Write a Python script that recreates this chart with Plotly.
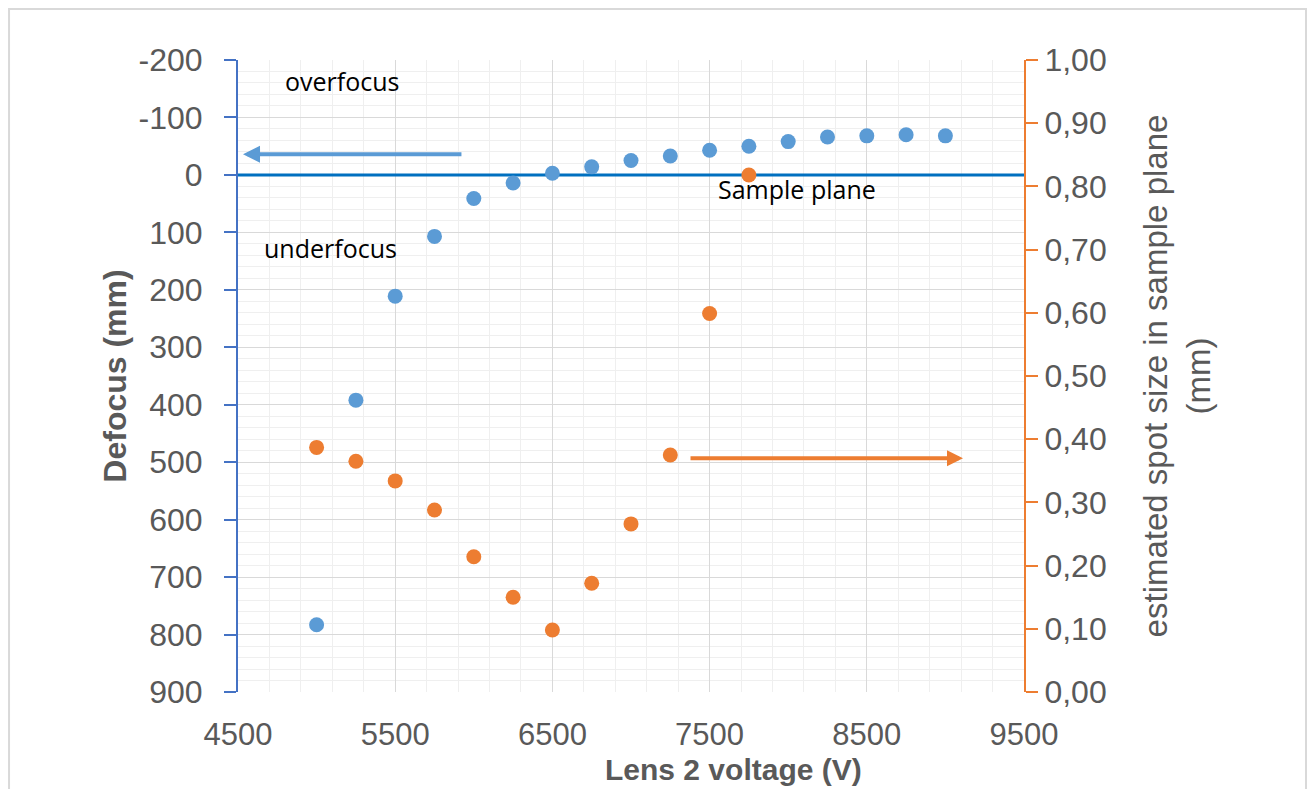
import plotly.graph_objects as go

# ---- data ----
voltage_defocus = [5000, 5250, 5500, 5750, 6000, 6250, 6500, 6750, 7000,
                   7250, 7500, 7750, 8000, 8250, 8500, 8750, 9000]
defocus_mm = [783, 392, 211, 107, 41, 14, -3, -14, -25,
              -33, -43, -50, -58, -66, -68, -70, -68]

voltage_spot = [5000, 5250, 5500, 5750, 6000, 6250, 6500, 6750, 7000,
                7250, 7500, 7750]
spot_size_mm = [0.387, 0.365, 0.334, 0.288, 0.214, 0.150, 0.098, 0.172,
                0.266, 0.375, 0.599, 0.818]

sample_plane_x = [4500, 9500]
sample_plane_defocus = [0, 0]

x_range = [4500, 9500]
y_left_range = [900, -200]
y_right_range = [0, 1]

y_left_tickvals = [-200, -100, 0, 100, 200, 300, 400, 500, 600, 700, 800, 900]
y_left_ticktext = ["-200", "-100", "0", "100", "200", "300", "400", "500",
                   "600", "700", "800", "900"]

BLUE = "#5B9BD5"
ORANGE = "#ED7D31"
DARKBLUE = "#0070C0"
AXIS_BLUE = "#4472C4"
GRAY = "#595959"
FONT = "Liberation Sans"
ANN_FONT = "Open Sans"

fig = go.Figure()

fig.add_trace(go.Scatter(x=sample_plane_x, y=sample_plane_defocus, mode="lines",
                         line=dict(color=DARKBLUE, width=3), yaxis="y",
                         hoverinfo="skip", showlegend=False))
fig.add_trace(go.Scatter(x=voltage_defocus, y=defocus_mm, mode="markers",
                         marker=dict(color=BLUE, size=15, line=dict(width=0)),
                         yaxis="y", showlegend=False, name="Defocus"))
fig.add_trace(go.Scatter(x=voltage_spot, y=spot_size_mm, mode="markers",
                         marker=dict(color=ORANGE, size=15, line=dict(width=0)),
                         yaxis="y2", showlegend=False, name="Spot size"))

fig.update_layout(
    width=1314, height=789,
    margin=dict(l=238, r=290, t=60, b=97),
    paper_bgcolor="white", plot_bgcolor="white",
    separators=",.",
    font=dict(family=FONT, color=GRAY),
    showlegend=False,
    xaxis=dict(
        range=x_range, tick0=4500, dtick=1000,
        showgrid=True, gridcolor="#D9D9D9", gridwidth=1,
        minor=dict(dtick=200, tick0=4500, showgrid=True, gridcolor="#EFEFEF", gridwidth=1),
        showline=False, zeroline=False, ticks="",
        tickfont=dict(family=FONT, size=31, color=GRAY),
        ticklabelstandoff=21,
    ),
    yaxis=dict(
        range=y_left_range, tickmode="array",
        tickvals=y_left_tickvals, ticktext=y_left_ticktext,
        showgrid=True, gridcolor="#D9D9D9", gridwidth=1,
        minor=dict(tickmode="linear", dtick=20, tick0=-200, showgrid=True,
                   gridcolor="#EFEFEF", gridwidth=1),
        showline=True, linecolor=AXIS_BLUE, linewidth=2,
        ticks="outside", ticklen=12, tickwidth=2, tickcolor=AXIS_BLUE,
        zeroline=False,
        tickfont=dict(family=FONT, size=32, color=GRAY),
        ticklabelstandoff=15,
        title=dict(text="<b>Defocus (mm)</b>", font=dict(family=FONT, size=32, color=GRAY),
                   standoff=2),
    ),
    yaxis2=dict(
        range=y_right_range, dtick=0.1, tick0=0, tickformat=".2f",
        overlaying="y", side="right",
        showgrid=False, zeroline=False,
        showline=True, linecolor=ORANGE, linewidth=2,
        ticks="outside", ticklen=12, tickwidth=2, tickcolor=ORANGE,
        tickfont=dict(family=FONT, size=32, color=GRAY),
        title=dict(text="estimated spot size in sample plane<br>(mm)",
                   font=dict(family=FONT, size=33, color=GRAY), standoff=38),
    ),
)

annotations = [
    dict(text="overfocus", x=4786, y=-163, xref="x", yref="y", xanchor="left",
         yanchor="middle", showarrow=False, font=dict(family=ANN_FONT, size=25, color="black")),
    dict(text="underfocus", x=4653, y=127, xref="x", yref="y", xanchor="left",
         yanchor="middle", showarrow=False, font=dict(family=ANN_FONT, size=25, color="black")),
    dict(text="Sample plane", x=7541, y=25, xref="x", yref="y", xanchor="left",
         yanchor="middle", showarrow=False, font=dict(family=ANN_FONT, size=25, color="black")),
    dict(text="<b>Lens 2 voltage (V)</b>", x=0.6306, y=-0.1225, xref="paper", yref="paper",
         xanchor="center", yanchor="middle", showarrow=False,
         font=dict(family=FONT, size=30, color=GRAY)),
    # blue arrow pointing to the left axis
    dict(text="", x=4532, y=-36, ax=5931, ay=-36, xref="x", yref="y", axref="x", ayref="y",
         showarrow=True, arrowhead=2, arrowsize=0.85, arrowwidth=4, arrowcolor=BLUE),
    # orange arrow pointing to the right axis
    dict(text="", x=9112, y=0.37, ax=7369, ay=0.37, xref="x", yref="y2", axref="x", ayref="y2",
         showarrow=True, arrowhead=2, arrowsize=0.8, arrowwidth=4, arrowcolor=ORANGE),
]
fig.update_layout(annotations=annotations)

# chart-area border
fig.add_shape(type="rect", xref="paper", yref="paper",
              x0=-0.2913, x1=1.3588, y0=-0.25, y1=1.0807,
              line=dict(color="#D9D9D9", width=2), fillcolor="rgba(0,0,0,0)", layer="below")

fig.write_html("out.html")
